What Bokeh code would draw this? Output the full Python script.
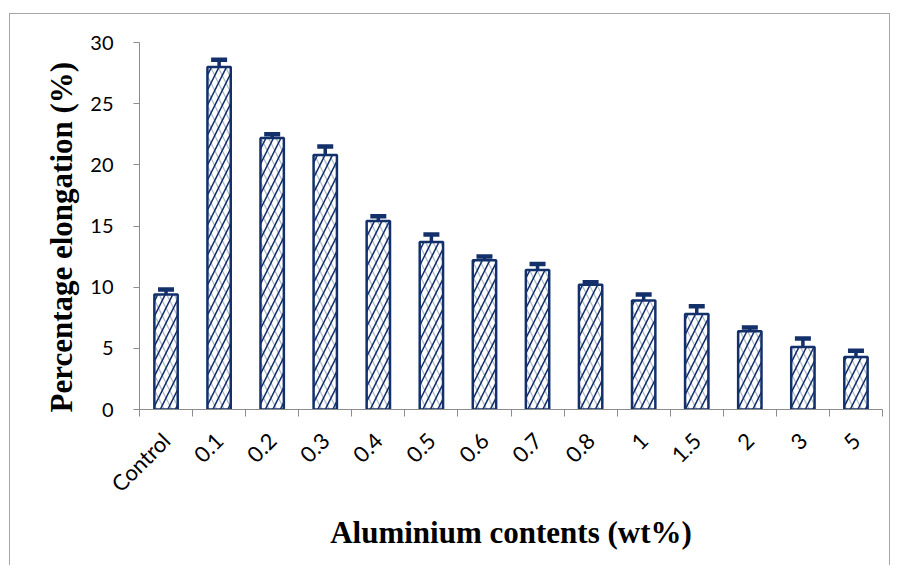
import math
from bokeh.plotting import figure
from bokeh.models import (Range1d, FixedTicker, ColumnDataSource, Whisker, TeeHead, Title)
from bokeh.embed import file_html
from bokeh.resources import INLINE

categories = ["Control", "0.1", "0.2", "0.3", "0.4", "0.5", "0.6", "0.7", "0.8", "1", "1.5", "2", "3", "5"]
elongation = [9.4, 28.0, 22.2, 20.8, 15.4, 13.7, 12.2, 11.4, 10.2, 8.9, 7.8, 6.4, 5.1, 4.3]
errors = [0.4, 0.6, 0.3, 0.7, 0.4, 0.6, 0.3, 0.5, 0.2, 0.5, 0.65, 0.3, 0.7, 0.5]
y_ticks = [0, 5, 10, 15, 20, 25, 30]

NAVY = "#13306b"
AXIS = "#8c8c8c"
BORDER = "#a6a6a6"

xs = [i + 0.5 for i in range(len(categories))]
src = ColumnDataSource(dict(
    x=xs, top=elongation,
    upper=[v + e for v, e in zip(elongation, errors)],
    lower=[v - e for v, e in zip(elongation, errors)],
))

p = figure(width=890, height=565, output_backend="svg", toolbar_location=None,
           x_range=Range1d(0, len(categories)), y_range=Range1d(0, 30),
           min_border_left=139, min_border_right=8, min_border_top=42, min_border_bottom=156)
g = f"linear-gradient({BORDER},{BORDER})"
p.styles = {
    "background-color": "white",
    "background-image": f"{g},{g},{g}",
    "background-size": "1px 100%, 881px 1px, 1px 100%",
    "background-position": "9px 13px, 9px 13px, 889px 13px",
    "background-repeat": "no-repeat",
}
p.outline_line_color = None
p.grid.visible = False
p.background_fill_color = "white"
p.border_fill_alpha = 0

p.vbar(x="x", top="top", width=0.44, source=src, fill_color="white",
       line_color=None, hatch_pattern="\\", hatch_color=NAVY, hatch_alpha=0.35,
       hatch_scale=15, hatch_weight=1.2)
p.vbar(x="x", top="top", width=0.44, source=src, fill_color=None,
       line_color=NAVY, line_width=2.5, hatch_pattern="/", hatch_color=NAVY,
       hatch_scale=15, hatch_weight=1.6)

w = Whisker(base="x", upper="upper", lower="lower", source=src,
            line_color=NAVY, line_width=3.5,
            upper_head=TeeHead(size=16, line_color=NAVY, line_width=4.5),
            lower_head=TeeHead(size=16, line_color=NAVY, line_width=4.5))
p.add_layout(w)

# x axis
p.xaxis.ticker = FixedTicker(ticks=xs, minor_ticks=list(range(len(categories) + 1)))
p.xaxis.major_label_overrides = {x: c for x, c in zip(xs, categories)}
p.xaxis.major_label_orientation = math.pi / 4
p.xaxis.major_tick_line_color = None
p.xaxis.minor_tick_line_color = AXIS
p.xaxis.minor_tick_out = 7
p.xaxis.minor_tick_in = 0
p.xaxis.axis_line_color = AXIS
p.xaxis.major_label_text_font = "Lato"
p.xaxis.major_label_text_font_size = "22px"
p.xaxis.major_label_text_color = "black"
p.xaxis.major_label_standoff = 20
p.xaxis.axis_label = "Aluminium contents (wt%)"
p.xaxis.axis_label_text_font = "Liberation Serif"
p.xaxis.axis_label_text_font_style = "bold"
p.xaxis.axis_label_text_font_size = "31px"
p.xaxis.axis_label_text_color = "black"
p.xaxis.axis_label_standoff = 5

# y axis
p.yaxis.ticker = FixedTicker(ticks=y_ticks)
p.yaxis.minor_tick_line_color = None
p.yaxis.major_tick_line_color = AXIS
p.yaxis.major_tick_out = 6
p.yaxis.major_tick_in = 0
p.yaxis.axis_line_color = AXIS
p.yaxis.major_label_text_font = "Lato"
p.yaxis.major_label_text_font_size = "20px"
p.yaxis.major_label_text_color = "black"
p.yaxis.major_label_standoff = 20

ytitle = Title(text="Percentage elongation (%)", align="left", offset=-3,
               text_font="Liberation Serif", text_font_style="bold",
               text_font_size="31px", text_color="black", standoff=18)
p.add_layout(ytitle, "left")

open("out.html", "w").write(file_html(p, INLINE))
